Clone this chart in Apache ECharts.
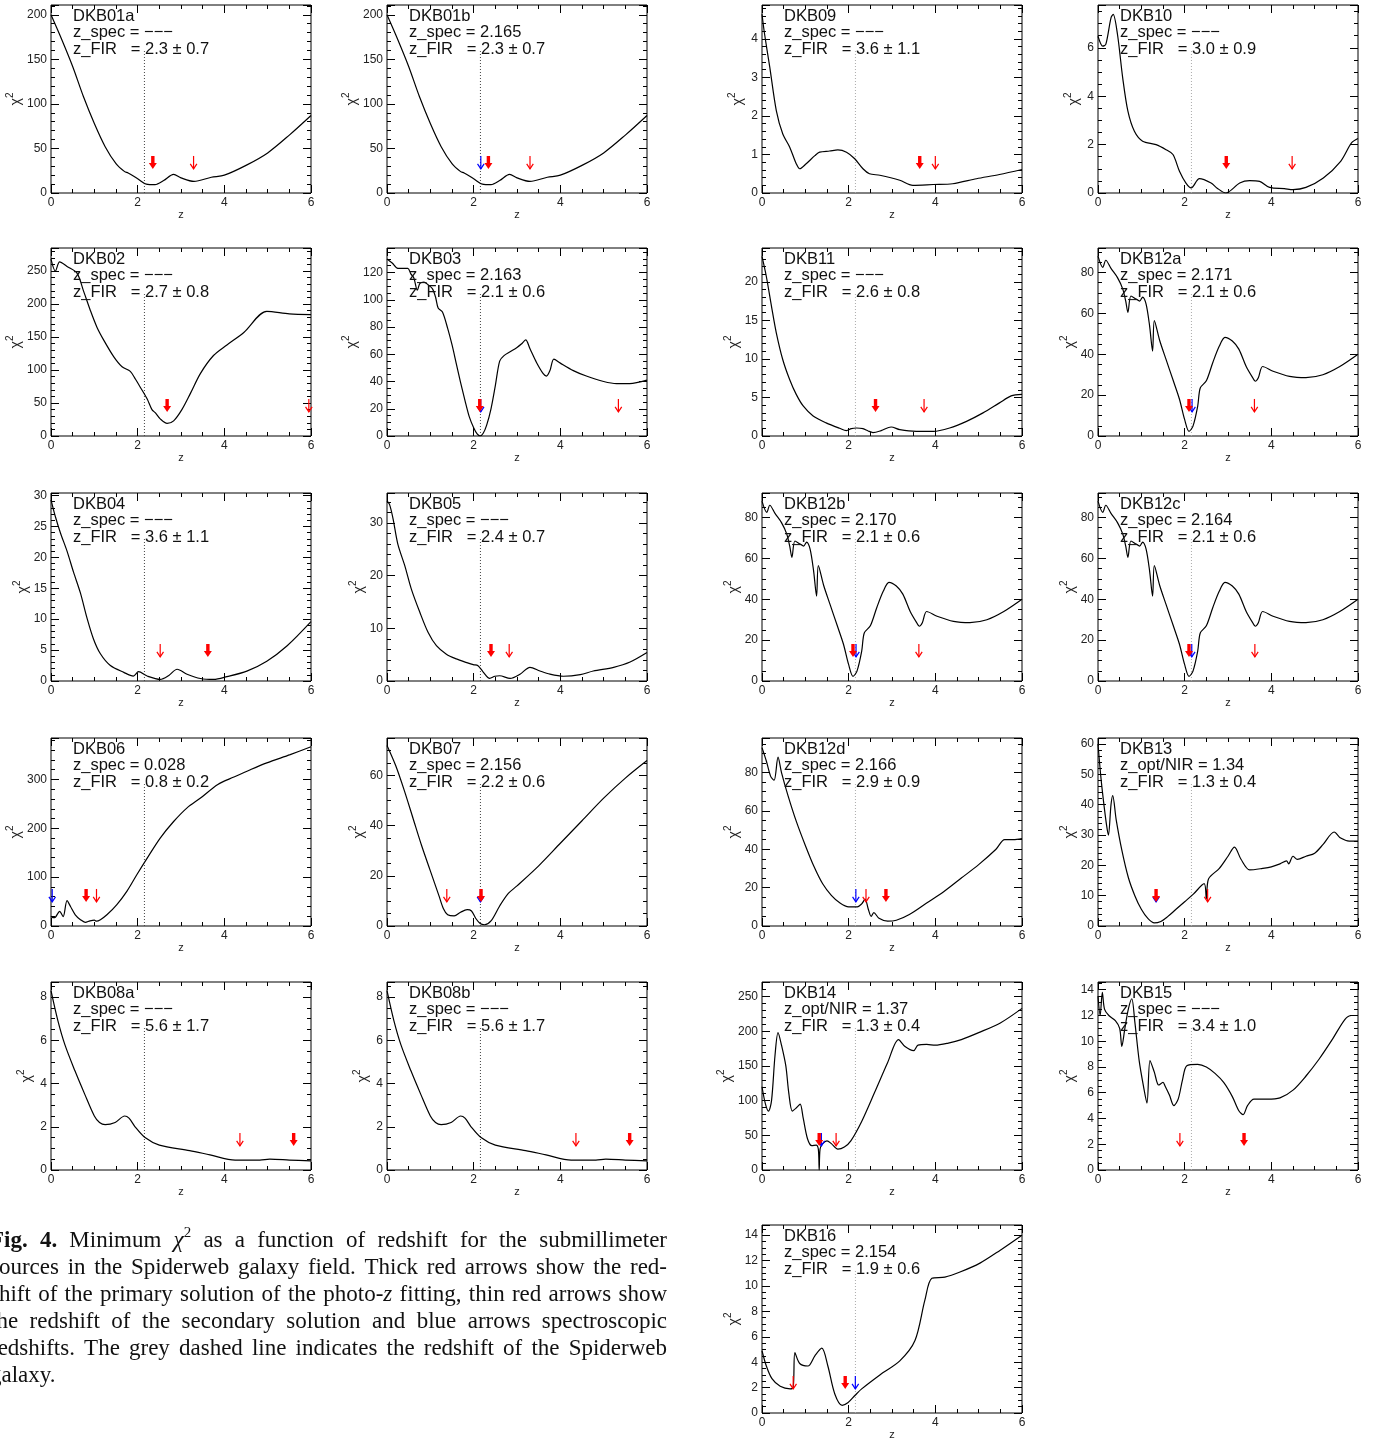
<!DOCTYPE html>
<html>
<head>
<meta charset="utf-8">
<script src="https://cdn.jsdelivr.net/npm/echarts@6/dist/echarts.min.js"></script>
<style>
  html, body { margin: 0; padding: 0; background: #fff; }
  #chart { width: 1383px; height: 1443px; }
</style>
</head>
<body>
<div id="chart"></div>
<script>
// ---- minimum chi^2 versus redshift z, one array of [z, chi2] pairs per source ----
const dkb01 = [[0,200],[0.25,172],[0.5,142],[0.75,108],[1.0,78],[1.25,52],[1.5,33],[1.7,24],[1.78,22.5],[2.0,16],[2.2,10],[2.4,9.4],[2.6,14],[2.83,21],[3.0,17],[3.3,13],[3.7,17.7],[4.0,20],[4.5,31],[5.0,45],[5.5,65],[6.0,87]];
const dkb09 = [[0,4.64],[0.06,4.12],[0.18,3.26],[0.33,2.14],[0.48,1.53],[0.64,1.19],[0.79,0.76],[0.87,0.63],[1.02,0.76],[1.22,0.97],[1.33,1.06],[1.56,1.09],[1.75,1.12],[1.95,1.06],[2.14,0.89],[2.33,0.63],[2.48,0.5],[2.72,0.46],[3.18,0.33],[3.48,0.2],[3.95,0.22],[4.4,0.24],[4.95,0.37],[5.48,0.48],[6.0,0.61]];
const dkb10 = [[0,6.48],[0.11,6.07],[0.18,6.14],[0.3,7.24],[0.35,7.38],[0.45,6.55],[0.57,4.76],[0.69,3.38],[0.84,2.55],[1.03,2.14],[1.34,2.0],[1.57,1.79],[1.73,1.59],[1.88,0.9],[2.03,0.41],[2.15,0.21],[2.34,0.59],[2.61,0.41],[2.75,0.2],[2.95,0.0],[3.27,0.41],[3.5,0.51],[3.73,0.48],[3.96,0.23],[4.3,0.18],[4.5,0.14],[4.8,0.23],[5.2,0.62],[5.6,1.31],[5.85,2.07],[6.0,2.25]];
const dkb02 = [[0,268],[0.1,250],[0.2,264],[0.37,257],[0.6,247],[0.75,220],[0.91,190],[1.06,165],[1.22,145],[1.45,120],[1.64,105],[1.83,98],[1.95,86],[2.06,74],[2.22,56],[2.33,40],[2.41,35],[2.52,26],[2.68,19],[2.83,23],[3.02,40],[3.22,65],[3.45,95],[3.75,122],[4.06,138],[4.45,157],[4.98,189],[5.5,185],[6.0,184]];
const dkb03 = [[0,130],[0.12,127],[0.25,123],[0.48,123],[0.55,119],[0.62,116],[0.7,107],[0.76,112],[0.85,113],[0.95,111],[1.05,108],[1.12,102],[1.18,94],[1.28,91],[1.4,79],[1.5,67],[1.6,53],[1.7,39],[1.8,26],[1.9,14],[2.0,6],[2.08,1.5],[2.15,0],[2.22,2],[2.3,8],[2.4,20],[2.5,37],[2.6,55],[2.7,59],[2.85,62],[3.0,65],[3.1,67.5],[3.2,70.5],[3.3,64],[3.45,54],[3.6,46],[3.68,44],[3.76,48],[3.85,56.5],[4.0,53.5],[4.3,48],[4.6,44],[5.0,40],[5.3,38.5],[5.6,38.5],[6.0,41]];
const dkb11 = [[0,23.3],[0.1,20.7],[0.22,16.8],[0.33,13.4],[0.48,9.9],[0.64,7.3],[0.79,5.4],[0.95,3.9],[1.18,2.6],[1.48,1.7],[1.79,1.0],[1.95,0.7],[2.06,0.95],[2.18,1.04],[2.33,0.95],[2.45,0.65],[2.56,0.45],[2.75,0.7],[2.98,1.17],[3.18,0.82],[3.56,0.6],[3.95,0.6],[4.33,1.04],[4.72,1.9],[5.1,3.0],[5.48,4.3],[5.75,5.2],[6.0,5.4]];
const dkb12 = [[0,88],[0.11,82.5],[0.18,86],[0.3,82],[0.45,77.5],[0.57,72],[0.64,66],[0.69,60.5],[0.76,68.5],[0.88,67],[0.96,66],[1.03,68],[1.11,64.5],[1.19,54],[1.26,41.5],[1.3,56.5],[1.42,47],[1.57,37.5],[1.73,27.5],[1.88,18],[2.0,8],[2.1,2.3],[2.19,4.7],[2.3,14.5],[2.36,23.5],[2.5,27],[2.65,36],[2.8,44],[2.93,48.3],[3.1,46.5],[3.25,42.5],[3.42,34],[3.57,28.5],[3.63,26.8],[3.7,28.5],[3.8,34],[4.04,31.7],[4.42,29.2],[4.8,28.6],[5.19,30],[5.58,34],[6.0,40]];
const dkb04 = [[0,29.3],[0.1,26.6],[0.22,23.9],[0.37,21],[0.52,17.6],[0.68,14.2],[0.83,10.2],[0.98,6.8],[1.14,4.4],[1.37,2.5],[1.68,1.4],[1.9,0.8],[2.02,1.5],[2.22,0.8],[2.52,0.25],[2.72,0.9],[2.91,1.9],[3.14,1.1],[3.45,0.4],[3.75,0.25],[4.06,0.7],[4.52,1.6],[4.98,3.2],[5.45,5.7],[6.0,9.6]];
const dkb05 = [[0,34.2],[0.06,33.5],[0.14,30.8],[0.25,26],[0.41,21.9],[0.56,17.5],[0.76,13],[0.95,9.2],[1.14,6.7],[1.37,5.1],[1.6,4.2],[1.84,3.5],[1.99,3.1],[2.1,2.9],[2.22,1.7],[2.37,0.5],[2.49,0.9],[2.6,1.0],[2.84,0.5],[3.07,1.3],[3.3,2.6],[3.53,1.9],[3.76,1.3],[4.07,0.9],[4.46,1.2],[4.76,1.9],[5.23,2.6],[5.61,3.6],[6.0,5.4]];
const dkb06 = [[0,20],[0.05,17],[0.1,18],[0.2,30],[0.28,19],[0.37,52],[0.45,40],[0.56,23],[0.68,13],[0.79,7.5],[0.9,10.5],[1.0,12],[1.05,10],[1.14,13],[1.29,23],[1.52,44],[1.75,71],[1.98,105],[2.22,139],[2.52,180],[2.83,214],[3.14,242],[3.45,262],[3.85,290],[4.22,305],[4.6,320],[4.98,334],[5.52,351],[6.0,367]];
const dkb07 = [[0,72],[0.2,64],[0.4,54],[0.6,43],[0.8,32],[1.0,22],[1.2,12],[1.3,7],[1.4,4.5],[1.55,4],[1.7,5.5],[1.85,6.5],[1.95,6],[2.05,3],[2.15,1],[2.25,0.5],[2.4,2],[2.6,8],[2.8,13],[3.0,16],[3.5,24],[4.0,33],[4.5,42],[5.0,51],[5.5,59],[6.0,66]];
const dkb12d = [[0,93],[0.1,86],[0.2,78],[0.28,76],[0.37,88],[0.45,80],[0.6,68],[0.8,54],[1.0,42],[1.2,31],[1.4,22],[1.6,16],[1.8,12],[2.0,10],[2.2,10],[2.3,11.5],[2.38,14],[2.45,9],[2.52,5],[2.58,7],[2.7,4],[2.9,2.5],[3.1,3],[3.4,6],[3.8,12],[4.2,18],[4.6,25],[5.0,32],[5.4,40],[5.6,45],[5.8,45],[6.0,45.5]];
const dkb13 = [[0,60],[0.06,50],[0.12,42],[0.2,33],[0.24,30],[0.3,40],[0.34,43],[0.42,35],[0.55,25],[0.7,16],[0.85,10],[1.0,5.5],[1.15,2.5],[1.3,1],[1.45,1.5],[1.6,3],[1.8,5.5],[2.0,8],[2.2,10.5],[2.45,14],[2.5,9],[2.55,15.5],[2.8,19],[3.0,23],[3.15,26],[3.3,22],[3.5,18.5],[3.8,19],[4.0,19.5],[4.2,20.5],[4.35,21.5],[4.4,20.5],[4.5,23],[4.6,22],[4.8,23],[5.0,24],[5.2,27],[5.45,31],[5.6,29],[5.8,28],[6.0,28]];
const dkb08 = [[0,8.3],[0.16,6.9],[0.32,5.8],[0.55,4.6],[0.78,3.5],[1.0,2.5],[1.12,2.2],[1.25,2.1],[1.48,2.2],[1.7,2.5],[1.8,2.4],[1.94,2.0],[2.17,1.5],[2.5,1.15],[3.2,0.9],[3.67,0.7],[4.25,0.46],[4.82,0.46],[5.05,0.5],[5.5,0.46],[6.0,0.42]];
const dkb14 = [[0,120],[0.08,95],[0.15,85],[0.22,100],[0.3,165],[0.37,198],[0.45,180],[0.55,150],[0.62,110],[0.7,85],[0.8,90],[0.88,95],[0.95,75],[1.05,45],[1.15,35],[1.25,36],[1.3,30],[1.32,0],[1.34,30],[1.4,38],[1.5,42],[1.6,38],[1.75,30],[1.9,33],[2.05,42],[2.3,70],[2.6,112],[2.9,155],[3.15,188],[3.3,178],[3.5,172],[3.6,180],[3.8,181],[4.0,180],[4.3,183],[4.6,188],[5.0,198],[5.5,212],[6.0,233]];
const dkb15 = [[0,13.5],[0.05,12],[0.1,13.8],[0.15,12.5],[0.25,12],[0.4,11.6],[0.5,11],[0.55,9.6],[0.62,11],[0.7,12.5],[0.78,13.3],[0.85,11.5],[0.95,8.5],[1.05,6.5],[1.13,5.2],[1.2,8.5],[1.3,7.6],[1.4,6.6],[1.5,6.8],[1.55,6.5],[1.65,5.8],[1.75,5],[1.85,5.5],[1.95,7],[2.05,8.1],[2.3,8.2],[2.5,8],[2.7,7.5],[2.9,6.8],[3.1,5.7],[3.25,4.6],[3.35,4.3],[3.45,5.0],[3.6,5.5],[3.9,5.5],[4.2,5.6],[4.5,6.2],[4.8,7.3],[5.1,8.6],[5.4,10.1],[5.7,11.7],[5.85,12],[6.0,12]];
const dkb16 = [[0,4.9],[0.1,3.7],[0.23,2.7],[0.42,2.1],[0.65,1.9],[0.72,2.0],[0.76,4.75],[0.87,3.9],[1.06,3.7],[1.22,4.5],[1.38,5.1],[1.52,3.7],[1.68,1.5],[1.85,0.6],[1.98,0.8],[2.15,1.4],[2.3,1.9],[2.72,3.0],[3.18,4.1],[3.53,5.7],[3.76,8.9],[3.92,10.6],[4.22,10.7],[4.57,11.1],[5.03,11.8],[5.49,12.8],[6.0,14.0]];

// ---- per-panel annotations ----
const names = ['DKB01a','DKB01b','DKB09','DKB10','DKB02','DKB03','DKB11','DKB12a','DKB04','DKB05','DKB12b','DKB12c','DKB06','DKB07','DKB12d','DKB13','DKB08a','DKB08b','DKB14','DKB15','DKB16'];
const curves = [dkb01, dkb01, dkb09, dkb10, dkb02, dkb03, dkb11, dkb12, dkb04, dkb05, dkb12, dkb12, dkb06, dkb07, dkb12d, dkb13, dkb08, dkb08, dkb14, dkb15, dkb16];
const specTag = ['z_spec','z_spec','z_spec','z_spec','z_spec','z_spec','z_spec','z_spec','z_spec','z_spec','z_spec','z_spec','z_spec','z_spec','z_spec','z_opt/NIR','z_spec','z_spec','z_opt/NIR','z_spec','z_spec'];
const specText = ['−−−','2.165','−−−','−−−','−−−','2.163','−−−','2.171','−−−','−−−','2.170','2.164','0.028','2.156','2.166','1.34','−−−','−−−','1.37','−−−','2.154'];
const firText = ['2.3 ± 0.7','2.3 ± 0.7','3.6 ± 1.1','3.0 ± 0.9','2.7 ± 0.8','2.1 ± 0.6','2.6 ± 0.8','2.1 ± 0.6','3.6 ± 1.1','2.4 ± 0.7','2.1 ± 0.6','2.1 ± 0.6','0.8 ± 0.2','2.2 ± 0.6','2.9 ± 0.9','1.3 ± 0.4','5.6 ± 1.7','5.6 ± 1.7','1.3 ± 0.4','3.4 ± 1.0','1.9 ± 0.6'];
const chiMax = [211,211,4.88,7.77,285,138,24.4,92,30.4,35.7,92,92,385,75,98,62,8.7,8.7,271,14.6,14.8];
const chiStep = [50,50,1,2,50,20,5,20,5,10,20,20,100,20,20,10,2,2,50,2,2];
const zPrimary = [2.35,2.34,3.64,2.96,2.68,2.14,2.62,2.10,3.62,2.40,2.10,2.10,0.81,2.17,2.86,1.34,5.60,5.60,1.32,3.37,1.92];
const zSecondary = [3.29,3.30,4.00,4.48,5.95,5.34,3.74,3.61,2.52,2.82,3.62,3.62,1.05,1.38,2.40,2.53,4.36,4.36,1.71,1.89,0.72];
const zSpecArrow = [null,2.165,null,null,null,2.163,null,2.171,null,null,2.170,2.164,0.028,2.156,2.166,1.34,null,null,1.37,null,2.154];
const zSpiderweb = 2.156;
const Z_MAX = 6, Z_STEP = 2;

// ---- page layout ----
const panelRow = [0,0,0,0, 1,1,1,1, 2,2,2,2, 3,3,3,3, 4,4,4,4, 5];
const panelCol = [0,1,2,3, 0,1,2,3, 0,1,2,3, 0,1,2,3, 0,1,2,3, 2];
const colLeft = [51, 387, 762, 1098];
const rowTop = [5, 248, 493, 738, 982, 1225];
const PW = 260, PH = 188;

const SANS = '"Liberation Sans", Arial, Helvetica, sans-serif';
const SERIF = '"Liberation Serif", "Times New Roman", serif';
const ARROW_TIP = 0.128, ARROW_TAIL = 0.197, DOT_TOP = 0.755;

// IDL-like minor tick count: 4 for steps starting with 2, otherwise 5
function minorSplit(step) {
  const lead = Math.round(step / Math.pow(10, Math.floor(Math.log10(step))));
  return lead === 2 ? 4 : 5;
}
function onStep(step) {
  return v => (Math.abs(v / step - Math.round(v / step)) < 1e-6 ? String(v) : '');
}

const grids = [], xAxes = [], yAxes = [], series = [], graphics = [];
const tickLine = { color: '#000', width: 1 };
const labelStyle = { fontFamily: SANS, fontSize: 12, color: '#222' };
const chiTitle = {
  fontFamily: SANS, color: '#222',
  rich: {
    c: { fontFamily: SANS, fontSize: 14, color: '#222', lineHeight: 18, verticalAlign: 'bottom' },
    s: { fontFamily: SANS, fontSize: 10, color: '#222', lineHeight: 18, verticalAlign: 'top' }
  }
};

names.forEach((name, g) => {
  const left = colLeft[panelCol[g]], top = rowTop[panelRow[g]];
  const ymax = chiMax[g], step = chiStep[g];
  const topLabel = Math.floor(ymax / step + 1e-9) * step;
  const digits = String(topLabel).length;
  const yGap = digits >= 3 ? 28 : (digits === 2 ? 21 : 17);

  grids.push({ left, top, width: PW, height: PH, show: true, borderColor: '#000', borderWidth: 1, backgroundColor: 'transparent' });

  const xBase = {
    type: 'value', gridIndex: g, min: 0, max: Z_MAX, interval: Z_STEP,
    axisLine: { show: false, onZero: false }, splitLine: { show: false },
    axisTick: { show: true, inside: true, length: 8, lineStyle: tickLine },
    minorTick: { show: true, splitNumber: minorSplit(Z_STEP), length: 4, lineStyle: tickLine }
  };
  xAxes.push(Object.assign({}, xBase, {
    position: 'bottom',
    axisLabel: Object.assign({ show: true, margin: 4, formatter: onStep(Z_STEP) }, labelStyle),
    name: 'z', nameLocation: 'middle', nameGap: 16, nameTextStyle: { fontFamily: SANS, fontSize: 11, color: '#222' }
  }));
  xAxes.push(Object.assign({}, xBase, { position: 'top', axisLabel: { show: false } }));

  const yBase = {
    type: 'value', gridIndex: g, min: 0, max: ymax, interval: step,
    axisLine: { show: false, onZero: false }, splitLine: { show: false },
    axisTick: { show: true, inside: true, length: 8, lineStyle: tickLine },
    minorTick: { show: true, splitNumber: minorSplit(step), length: 4, lineStyle: tickLine }
  };
  yAxes.push(Object.assign({}, yBase, {
    position: 'left',
    axisLabel: Object.assign({ show: true, margin: 4, formatter: onStep(step) }, labelStyle),
    name: '{c|χ}{s|2}', nameLocation: 'middle', nameRotate: 90, nameGap: yGap,
    nameTextStyle: chiTitle
  }));
  yAxes.push(Object.assign({}, yBase, { position: 'right', axisLabel: { show: false } }));

  const xi = 2 * g, yi = 2 * g;

  // Spiderweb galaxy redshift
  series.push({
    type: 'line', xAxisIndex: xi, yAxisIndex: yi, silent: true, symbol: 'none', z: 1,
    data: [[zSpiderweb, 0], [zSpiderweb, ymax * DOT_TOP]],
    lineStyle: { color: panelCol[g] < 2 ? '#444' : '#aaa', width: 1, type: [1, 2] }
  });

  // chi^2 curve
  series.push({
    type: 'line', xAxisIndex: xi, yAxisIndex: yi, silent: true, symbol: 'none', showSymbol: false, z: 2,
    smooth: 0.3,
    data: curves[g], lineStyle: { color: '#000', width: 1.2 }
  });

  // arrows: 0 = spectroscopic (blue), 1 = secondary (thin red), 2 = primary (thick red)
  const arrows = [];
  if (zSpecArrow[g] !== null) arrows.push([zSpecArrow[g], 0]);
  arrows.push([zSecondary[g], 1]);
  arrows.push([zPrimary[g], 2]);
  series.push({
    type: 'custom', xAxisIndex: xi, yAxisIndex: yi, silent: true, clip: false, z: 4,
    data: arrows,
    renderItem(params, api) {
      const zv = api.value(0), kind = api.value(1);
      const tip = api.coord([zv, ymax * ARROW_TIP]);
      const tail = api.coord([zv, ymax * ARROW_TAIL]);
      const x = tip[0], ty = tip[1], sy = tail[1];
      if (kind === 2) {
        return {
          type: 'polygon',
          shape: { points: [[x - 1.7, sy], [x + 1.7, sy], [x + 1.7, ty - 6], [x + 4, ty - 6], [x, ty], [x - 4, ty - 6], [x - 1.7, ty - 6]] },
          style: { fill: '#ff0000' }
        };
      }
      const col = kind === 0 ? '#0000ff' : '#ff0000';
      return {
        type: 'group',
        children: [
          { type: 'line', shape: { x1: x, y1: sy, x2: x, y2: ty }, style: { stroke: col, lineWidth: 1.2 } },
          { type: 'polyline', shape: { points: [[x - 3.3, ty - 5], [x, ty], [x + 3.3, ty - 5]] }, style: { stroke: col, lineWidth: 1.2, fill: 'none' } }
        ]
      };
    }
  });

  // panel annotation
  const lines = [name, specTag[g] + ' = ' + specText[g], 'z_FIR   = ' + firText[g]];
  lines.forEach((t, k) => {
    graphics.push({
      type: 'text', x: left + 22, y: top + 11 + k * 16.5, silent: true, z: 10,
      style: { text: t, fontFamily: SANS, fontSize: 16.5, fill: '#111', verticalAlign: 'middle' }
    });
  });
});

// ---- figure caption (justified) ----
const captionLines = [
  '**Fig.** **4.** Minimum *χ*^2 as a function of redshift for the submillimeter',
  'sources in the Spiderweb galaxy field. Thick red arrows show the red-',
  'shift of the primary solution of the photo-*z* fitting, thin red arrows show',
  'the redshift of the secondary solution and blue arrows spectroscopic',
  'redshifts. The grey dashed line indicates the redshift of the Spiderweb',
  'galaxy.'
];
const CAP_SIZE = 23, CAP_X0 = -10, CAP_X1 = 667, CAP_Y0 = 1241, CAP_LH = 27;
const measureCtx = document.createElement('canvas').getContext('2d');
function runFont(s) {
  if (s === 'b') return { fontWeight: 'bold', fontStyle: 'normal', fontSize: CAP_SIZE };
  if (s === 'i') return { fontWeight: 'normal', fontStyle: 'italic', fontSize: CAP_SIZE };
  if (s === 'sup') return { fontWeight: 'normal', fontStyle: 'normal', fontSize: 15 };
  return { fontWeight: 'normal', fontStyle: 'normal', fontSize: CAP_SIZE };
}
function measure(t, s) {
  const f = runFont(s);
  measureCtx.font = f.fontStyle + ' ' + f.fontWeight + ' ' + f.fontSize + 'px ' + SERIF;
  return measureCtx.measureText(t).width;
}
function parseWord(w) {
  const runs = [];
  const re = /\*\*([^*]+)\*\*|\*([^*]+)\*|\^(\S+)|([^*^]+)/g;
  let m;
  while ((m = re.exec(w))) {
    if (m[1]) runs.push({ t: m[1], s: 'b' });
    else if (m[2]) runs.push({ t: m[2], s: 'i' });
    else if (m[3]) runs.push({ t: m[3], s: 'sup' });
    else runs.push({ t: m[4], s: 'n' });
  }
  runs.forEach(r => { r.w = measure(r.t, r.s); });
  return runs;
}
captionLines.forEach((line, li) => {
  const words = line.split(' ').map(parseWord);
  const widths = words.map(rs => rs.reduce((a, r) => a + r.w, 0));
  const total = widths.reduce((a, b) => a + b, 0);
  const last = li === captionLines.length - 1;
  const gap = last || words.length < 2 ? measure(' ', 'n') : (CAP_X1 - CAP_X0 - total) / (words.length - 1);
  let x = CAP_X0;
  const y = CAP_Y0 + li * CAP_LH;
  words.forEach(rs => {
    rs.forEach(r => {
      const f = runFont(r.s);
      graphics.push({
        type: 'text', x, y: r.s === 'sup' ? y - 8 : y, silent: true,
        style: Object.assign({ text: r.t, fontFamily: SERIF, fill: '#111', verticalAlign: 'middle' }, f)
      });
      x += r.w;
    });
    x += gap;
  });
});

const chart = echarts.init(document.getElementById('chart'), null, { renderer: 'canvas' });
chart.setOption({
  animation: false,
  backgroundColor: '#fff',
  grid: grids,
  xAxis: xAxes,
  yAxis: yAxes,
  series,
  graphic: graphics
});
</script>
</body>
</html>
